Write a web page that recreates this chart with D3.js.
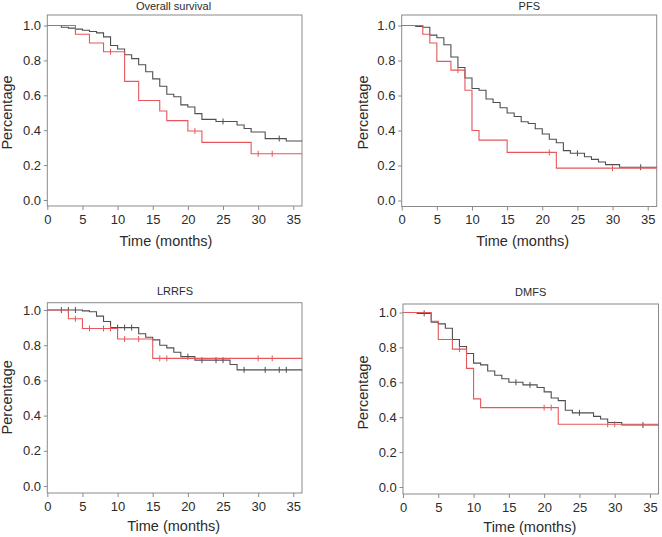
<!DOCTYPE html>
<html>
<head>
<meta charset="utf-8">
<script src="https://cdn.jsdelivr.net/npm/d3@7"></script>
<style>
  body { margin: 0; background: #fff; }
  svg text { font-family: "Liberation Sans", Arial, sans-serif; fill: #2b2b2b; }
</style>
</head>
<body>
<div id="chart"></div>
<script>
// COLORS and FONTS
var greyColor = "#4f4f4f";
var redColor = "#e5575b";
var frameColor = "#8a8a8a";

// TICKS
var xTicks = [0, 5, 10, 15, 20, 25, 30, 35];
var yTicks = [0, 0.2, 0.4, 0.6, 0.8, 1.0];

// OVERALL SURVIVAL
var osGreyT = [0, 2, 3, 4, 5, 6, 7, 8, 9, 10, 11, 12, 13, 14, 15, 16, 17, 18, 19, 20, 21, 22, 24, 27, 28, 29, 31, 34];
var osGreyS = [1, 0.99, 0.985, 0.979, 0.973, 0.966, 0.958, 0.935, 0.885, 0.865, 0.832, 0.81, 0.775, 0.735, 0.694, 0.652, 0.606, 0.592, 0.545, 0.533, 0.495, 0.462, 0.45, 0.43, 0.41, 0.39, 0.352, 0.338];
var osGreyCens = [25, 33];
var osRedT = [0, 4, 6, 8, 11, 13, 16, 17, 20, 22, 29];
var osRedS = [1, 0.95, 0.9, 0.85, 0.68, 0.57, 0.51, 0.455, 0.395, 0.33, 0.265];
var osRedCens = [9, 21, 30, 32];

// PFS
var pfsGreyT = [0, 2, 3, 4, 5, 6, 7, 8, 9, 10, 11, 12, 13, 14, 15, 16, 17, 18, 19, 20, 21, 22, 23, 24, 26, 27, 28, 29, 31];
var pfsGreyS = [1, 0.995, 0.99, 0.945, 0.93, 0.89, 0.82, 0.76, 0.7, 0.64, 0.63, 0.58, 0.56, 0.53, 0.5, 0.48, 0.45, 0.44, 0.41, 0.38, 0.35, 0.33, 0.285, 0.27, 0.25, 0.235, 0.22, 0.205, 0.19];
var pfsGreyCens = [25, 34];
var pfsRedT = [0, 3, 4, 5, 7, 9, 10, 11, 15, 22];
var pfsRedS = [1, 0.95, 0.9, 0.795, 0.745, 0.63, 0.4, 0.345, 0.275, 0.185];
var pfsRedCens = [8, 21, 30];

// LRRFS
var lrGreyT = [0, 5, 6, 7, 8, 9, 13, 14, 15, 16, 17, 18, 19, 21, 26, 27];
var lrGreyS = [1, 0.995, 0.99, 0.965, 0.935, 0.9, 0.865, 0.845, 0.83, 0.8, 0.785, 0.76, 0.735, 0.715, 0.69, 0.66];
var lrGreyCens = [2, 3, 4, 10, 11, 12, 20, 22, 24, 25, 28, 31, 33, 34];
var lrRedT = [0, 3, 5, 10, 15];
var lrRedS = [1, 0.95, 0.895, 0.835, 0.725];
var lrRedCens = [4, 6, 8, 9, 11, 13, 16, 17, 30, 32];

// DMFS
var dmGreyT = [0, 2, 4, 5, 6, 7, 8, 9, 10, 11, 12, 13, 14, 15, 17, 19, 20, 21, 22, 23, 24, 27, 28, 29, 31];
var dmGreyS = [1, 0.995, 0.945, 0.935, 0.91, 0.845, 0.805, 0.765, 0.71, 0.7, 0.665, 0.64, 0.62, 0.6, 0.585, 0.57, 0.545, 0.51, 0.495, 0.44, 0.425, 0.405, 0.39, 0.37, 0.355];
var dmGreyCens = [3, 16, 18, 25, 34];
var dmRedT = [0, 4, 5, 7, 9, 10, 11, 22];
var dmRedS = [1, 0.95, 0.845, 0.79, 0.68, 0.505, 0.455, 0.36];
var dmRedCens = [8, 20, 21, 29, 30];

var panels = [
  {title: "Overall survival", box: {l: 47.3, r: 302, t: 15, b: 206}, x35: 293.3, y0: 200, y1: 25.5,
   titleX: 173.5, titleY: 10, xLabX: 166, xLabY: 246, yLabX: 8.5, yLabY: 112.5,
   curves: [[osGreyT, osGreyS, osGreyCens, greyColor], [osRedT, osRedS, osRedCens, redColor]]},
  {title: "PFS", box: {l: 401.7, r: 656.7, t: 15, b: 206.5}, x35: 647.7, y0: 200.5, y1: 25.5,
   titleX: 529.3, titleY: 10, xLabX: 522.7, xLabY: 246, yLabX: 364.3, yLabY: 112.5,
   curves: [[pfsGreyT, pfsGreyS, pfsGreyCens, greyColor], [pfsRedT, pfsRedS, pfsRedCens, redColor]]},
  {title: "LRRFS", box: {l: 47.3, r: 302, t: 302.7, b: 493}, x35: 293.3, y0: 486, y1: 310,
   titleX: 175, titleY: 295, xLabX: 173.7, xLabY: 531, yLabX: 8.5, yLabY: 397.3,
   curves: [[lrGreyT, lrGreyS, lrGreyCens, greyColor], [lrRedT, lrRedS, lrRedCens, redColor]]},
  {title: "DMFS", box: {l: 403, r: 658.5, t: 304, b: 494}, x35: 650, y0: 487, y1: 312.5,
   titleX: 530.7, titleY: 295.7, xLabX: 529.8, xLabY: 532, yLabX: 364.3, yLabY: 392.5,
   curves: [[dmGreyT, dmGreyS, dmGreyCens, greyColor], [dmRedT, dmRedS, dmRedCens, redColor]]}
];

var svg = d3.select("#chart").append("svg")
  .attr("width", 662)
  .attr("height", 537);

// survival value at time t from a step curve
function survAt(times, surv, t) {
  var i = d3.bisectRight(times, t) - 1;
  return surv[Math.max(i, 0)];
}

panels.forEach(function(p) {
  var x = d3.scaleLinear().domain([0, 35]).range([p.box.l, p.x35]);
  var y = d3.scaleLinear().domain([0, 1]).range([p.y0, p.y1]);
  var xEnd = x.invert(p.box.r);
  var g = svg.append("g");

  // frame
  g.append("rect")
    .attr("x", p.box.l)
    .attr("y", p.box.t)
    .attr("width", p.box.r - p.box.l)
    .attr("height", p.box.b - p.box.t)
    .attr("fill", "none")
    .attr("stroke", frameColor)
    .attr("stroke-width", 1);

  // axes
  var ya = g.append("g")
    .attr("transform", `translate(${p.box.l},0)`)
    .call(d3.axisLeft(y).tickValues(yTicks).tickSize(3.5).tickPadding(2.8).tickFormat(d3.format(".1f")));
  var xa = g.append("g")
    .attr("transform", `translate(0,${p.box.b})`)
    .call(d3.axisBottom(x).tickValues(xTicks).tickSize(4).tickPadding(4.3));
  [ya, xa].forEach(function(a) {
    a.select(".domain").remove();
    a.selectAll(".tick line").attr("stroke", frameColor);
    a.selectAll(".tick text")
      .attr("font-size", 13)
      .attr("font-family", "'Liberation Sans',Arial,sans-serif")
      .attr("fill", "#2b2b2b");
  });

  // labels
  g.append("text")
    .attr("x", p.titleX)
    .attr("y", p.titleY)
    .attr("text-anchor", "middle")
    .attr("font-size", 11)
    .text(p.title);
  g.append("text")
    .attr("x", p.xLabX)
    .attr("y", p.xLabY)
    .attr("text-anchor", "middle")
    .attr("font-size", 14.5)
    .text("Time (months)");
  g.append("text")
    .attr("transform", `translate(${p.yLabX},${p.yLabY}) rotate(-90)`)
    .attr("dy", "0.25em")
    .attr("text-anchor", "middle")
    .attr("font-size", 14.5)
    .text("Percentage");

  // curves
  p.curves.forEach(function(c) {
    var times = c[0], surv = c[1], cens = c[2], color = c[3];
    var pts = times.map(function(t, i) { return [t, surv[i]]; });
    pts.push([xEnd, surv[surv.length - 1]]);

    var line = d3.line()
      .x(function(d) { return x(d[0]); })
      .y(function(d) { return y(d[1]); })
      .curve(d3.curveStepAfter);

    g.append("path")
      .datum(pts)
      .attr("d", line)
      .attr("fill", "none")
      .attr("stroke", color)
      .attr("stroke-width", 1.1);

    g.selectAll(null)
      .data(cens)
      .enter().append("line")
      .attr("x1", function(d) { return x(d); })
      .attr("x2", function(d) { return x(d); })
      .attr("y1", function(d) { return y(survAt(times, surv, d)) - 3; })
      .attr("y2", function(d) { return y(survAt(times, surv, d)) + 3; })
      .attr("stroke", color)
      .attr("stroke-width", 1);
  });
});
</script>
</body>
</html>
